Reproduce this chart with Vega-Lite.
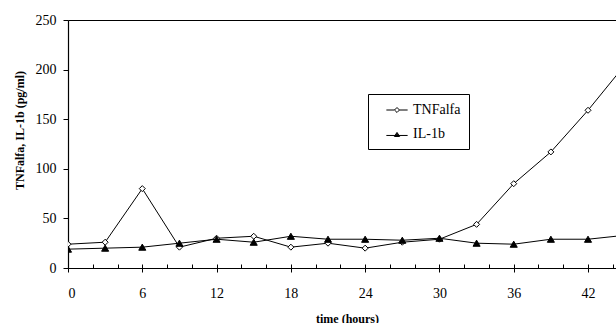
{
  "$schema": "https://vega.github.io/schema/vega-lite/v6.json",
  "autosize": "none",
  "width": 548,
  "height": 248,
  "padding": {"left": 68, "top": 20, "right": 0, "bottom": 55},
  "background": "white",
  "config": {
    "view": {"stroke": null},
    "font": "Liberation Serif",
    "axis": {"labelFont": "Liberation Serif", "titleFont": "Liberation Serif", "labelColor": "black", "titleColor": "black", "domainColor": "black", "tickColor": "black", "grid": false}
  },
  "data": {
    "values": [
      {"time": 0, "series": "TNFalfa", "value": 24},
      {"time": 3, "series": "TNFalfa", "value": 26},
      {"time": 6, "series": "TNFalfa", "value": 80},
      {"time": 9, "series": "TNFalfa", "value": 21},
      {"time": 12, "series": "TNFalfa", "value": 30},
      {"time": 15, "series": "TNFalfa", "value": 32},
      {"time": 18, "series": "TNFalfa", "value": 21},
      {"time": 21, "series": "TNFalfa", "value": 25},
      {"time": 24, "series": "TNFalfa", "value": 20},
      {"time": 27, "series": "TNFalfa", "value": 26},
      {"time": 30, "series": "TNFalfa", "value": 29},
      {"time": 33, "series": "TNFalfa", "value": 44},
      {"time": 36, "series": "TNFalfa", "value": 85},
      {"time": 39, "series": "TNFalfa", "value": 117},
      {"time": 42, "series": "TNFalfa", "value": 159},
      {"time": 45, "series": "TNFalfa", "value": 205},
      {"time": 0, "series": "IL-1b", "value": 19},
      {"time": 3, "series": "IL-1b", "value": 20},
      {"time": 6, "series": "IL-1b", "value": 21},
      {"time": 9, "series": "IL-1b", "value": 25},
      {"time": 12, "series": "IL-1b", "value": 29},
      {"time": 15, "series": "IL-1b", "value": 26},
      {"time": 18, "series": "IL-1b", "value": 32},
      {"time": 21, "series": "IL-1b", "value": 29},
      {"time": 24, "series": "IL-1b", "value": 29},
      {"time": 27, "series": "IL-1b", "value": 28},
      {"time": 30, "series": "IL-1b", "value": 30},
      {"time": 33, "series": "IL-1b", "value": 25},
      {"time": 36, "series": "IL-1b", "value": 24},
      {"time": 39, "series": "IL-1b", "value": 29},
      {"time": 42, "series": "IL-1b", "value": 29},
      {"time": 45, "series": "IL-1b", "value": 33}
    ]
  },
  "layer": [
    {
      "mark": {"type": "line", "color": "black", "strokeWidth": 1, "clip": true},
      "encoding": {
        "x": {"field": "time", "type": "quantitative", "scale": {"domain": [0, 44.26], "nice": false, "zero": false},
          "axis": {"values": [0, 6, 12, 18, 24, 30, 36, 42], "title": "time (hours)", "titleFontSize": 12, "titleFontWeight": "bold", "titleX": 279, "titleY": 45, "titleBaseline": "top", "labelFontSize": 14, "tickSize": 4, "labelPadding": 14, "domainWidth": 1.2}},
        "y": {"field": "value", "type": "quantitative", "scale": {"domain": [0, 250], "nice": false},
          "axis": {"values": [0, 50, 100, 150, 200, 250], "title": "TNFalfa, IL-1b (pg/ml)", "titleFontSize": 12, "titleFontWeight": "bold", "titleX": -49, "titleY": 110, "titleBaseline": "middle", "titleAngle": -90, "labelFontSize": 14, "tickSize": 5, "labelPadding": 7, "domainWidth": 1.2}},
        "detail": {"field": "series"}
      }
    },
    {
      "mark": {"type": "point", "filled": true, "stroke": "black", "strokeWidth": 1, "opacity": 1, "clip": true},
      "encoding": {
        "x": {"field": "time", "type": "quantitative",
          "axis": {"orient": "top", "labels": false, "ticks": false, "title": null, "domainWidth": 1.2}},
        "y": {"field": "value", "type": "quantitative"},
        "shape": {"field": "series", "type": "nominal", "scale": {"domain": ["TNFalfa", "IL-1b"], "range": ["diamond", "triangle-up"]}, "legend": null},
        "fill": {"field": "series", "type": "nominal", "scale": {"domain": ["TNFalfa", "IL-1b"], "range": ["white", "black"]}, "legend": null},
        "size": {"field": "series", "type": "nominal", "scale": {"domain": ["TNFalfa", "IL-1b"], "range": [36, 50]}, "legend": null}
      }
    },
    {
      "transform": [{"filter": "datum.time > 44.26"}],
      "mark": {"type": "point", "filled": false, "color": "black", "strokeWidth": 1, "opacity": 1, "clip": true},
      "encoding": {
        "x": {"field": "time", "type": "quantitative",
          "axis": {"orient": "bottom", "labels": false, "domain": false, "tickSize": -4, "title": null}},
        "y": {"field": "value", "type": "quantitative"},
        "shape": {"field": "series", "type": "nominal", "scale": {"domain": ["TNFalfa", "IL-1b"], "range": ["M-1.45,0H-0.34M0.34,0H1.45M0,-0.34L0.34,0L0,0.34L-0.34,0Z", "M-1.45,0.2H1.45M0,-0.22L0.36,0.34L-0.36,0.34ZM0,-0.1L0.22,0.27L-0.22,0.27ZM0,0.05L0.1,0.22L-0.1,0.22Z"]},
          "legend": {"title": null, "orient": "none", "legendX": 300, "legendY": 74, "strokeColor": "black", "fillColor": "white", "padding": 8, "labelFont": "Liberation Serif", "labelFontSize": 14, "labelColor": "black", "symbolSize": 215, "symbolStrokeColor": "black", "symbolStrokeWidth": 1, "symbolFillColor": "white", "rowPadding": 9, "symbolOffset": 13, "labelOffset": 8, "labelExpr": "datum.label + '   '"}}
      }
    }
  ],
  "resolve": {"axis": {"x": "independent"}, "scale": {"shape": "independent"}}
}
